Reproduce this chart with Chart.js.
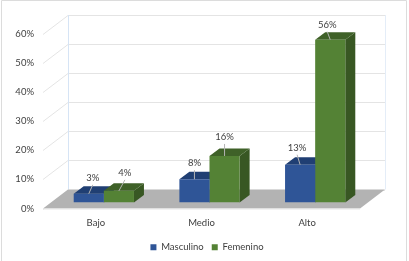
<!DOCTYPE html>
<html>
<head>
<meta charset="utf-8">
<style>
  html, body { margin: 0; padding: 0; background: #fff; }
  canvas { display: block; }
</style>
<script src="https://cdn.jsdelivr.net/npm/chart.js@4"></script>
</head>
<body>
<canvas id="myChart" width="409" height="261"></canvas>
<script>
const categories = ['Bajo', 'Medio', 'Alto'];
const masculino = [3, 8, 13];
const femenino = [4, 16, 56];
const yTicks = [0, 10, 20, 30, 40, 50, 60];

// pseudo 3D: offsets from the plane of the bars
const WALL = { dx: 17, dy: -13 };
const FRONT = { dx: -8, dy: 6 };
const BAR_DEPTH = { dx: 10, dy: -7.5 };
const TEXT = '#404040';
const FONT_FAMILY = 'Lato';
const FONT_SIZE = 9.5;

// label nudges per dataset, per bar: [dx, dy] from the top of the front face
const labelNudge = [
  [[4, -16], [0, -16], [-3, -17]],
  [[6, -18], [0, -19], [-3, -15]]
];
const sideColors = ['#1f3f73', '#385723'];
const topColors = ['#203f73', '#3f6128'];

function poly(ctx, pts, fill) {
  ctx.beginPath();
  pts.forEach((p, i) => i ? ctx.lineTo(p[0], p[1]) : ctx.moveTo(p[0], p[1]));
  ctx.closePath();
  ctx.fillStyle = fill;
  ctx.fill();
}

function line(ctx, x1, y1, x2, y2, color) {
  ctx.beginPath();
  ctx.moveTo(x1, y1);
  ctx.lineTo(x2, y2);
  ctx.strokeStyle = color;
  ctx.lineWidth = 1;
  ctx.stroke();
}

const frame = {
  id: 'frame',
  beforeDraw(chart) {
    const ctx = chart.ctx;
    ctx.save();
    ctx.strokeStyle = '#dcdcdc';
    ctx.lineWidth = 1;
    ctx.beginPath();
    ctx.moveTo(1.5, 261);
    ctx.lineTo(1.5, 0.5);
    ctx.lineTo(406.5, 0.5);
    ctx.lineTo(406.5, 261);
    ctx.stroke();
    ctx.restore();
  },
  // the right padding pushes the legend left, put it back under the whole frame
  afterLayout(chart) {
    chart.legend.left += 23;
    chart.legend.right += 23;
    chart.legend.top += 2;
    chart.legend.bottom += 2;
  }
};

const walls = {
  id: 'walls',
  beforeDatasetsDraw(chart) {
    const ctx = chart.ctx;
    const area = chart.chartArea;
    const y = chart.scales.y;
    const backL = area.left + WALL.dx, backR = area.right + WALL.dx;
    const frontL = area.left + FRONT.dx, frontR = area.right + FRONT.dx;
    ctx.save();
    yTicks.forEach((t) => {
      const py = Math.round(y.getPixelForValue(t));
      line(ctx, backL, py + WALL.dy + 0.5, backR, py + WALL.dy + 0.5, '#e4e4e4');
      line(ctx, frontL, py + FRONT.dy + 0.5, backL, py + WALL.dy + 0.5, '#e4e4e4');
    });
    const top = y.getPixelForValue(60) + WALL.dy;
    const bottom = y.getPixelForValue(0) + WALL.dy;
    line(ctx, backL + 0.5, top, backL + 0.5, bottom, '#d6e4f5');
    line(ctx, backR + 0.5, top, backR + 0.5, bottom, '#e4edf8');
    poly(ctx, [
      [frontL, area.bottom + FRONT.dy],
      [backL, bottom],
      [backR, bottom],
      [frontR, area.bottom + FRONT.dy]
    ], '#b3b3b3');
    line(ctx, frontL, area.bottom + FRONT.dy + 0.5, frontR, area.bottom + FRONT.dy + 0.5, '#e6e6e6');
    // the sides and tops sit behind the front faces
    chart.data.datasets.forEach((ds, d) => {
      chart.getDatasetMeta(d).data.forEach((bar) => {
        const l = bar.x - bar.width / 2, r = bar.x + bar.width / 2;
        const dx = BAR_DEPTH.dx, dy = BAR_DEPTH.dy;
        poly(ctx, [[r, bar.y], [r + dx, bar.y + dy], [r + dx, bar.base + dy], [r, bar.base]], sideColors[d]);
        poly(ctx, [[l, bar.y], [l + dx, bar.y + dy], [r + dx, bar.y + dy], [r, bar.y]], topColors[d]);
      });
    });
    ctx.restore();
  }
};

const barLabels = {
  id: 'barLabels',
  afterDatasetsDraw(chart) {
    const ctx = chart.ctx;
    ctx.save();
    ctx.font = FONT_SIZE + 'px ' + FONT_FAMILY;
    ctx.textAlign = 'center';
    ctx.textBaseline = 'middle';
    chart.data.datasets.forEach((ds, d) => {
      chart.getDatasetMeta(d).data.forEach((bar, i) => {
        const n = labelNudge[d][i];
        const lx = bar.x + n[0], ly = bar.y + n[1];
        line(ctx, bar.x, bar.y, lx, ly + 7, '#b4b4b4');
        ctx.fillStyle = TEXT;
        ctx.fillText(ds.data[i] + '%', lx, ly);
      });
    });
    ctx.restore();
  }
};

new Chart(document.getElementById('myChart'), {
  type: 'bar',
  data: {
    labels: categories,
    datasets: [
      { label: 'Masculino', data: masculino, backgroundColor: '#2f5597' },
      { label: 'Femenino', data: femenino, backgroundColor: '#548235' }
    ]
  },
  options: {
    responsive: false,
    animation: false,
    categoryPercentage: 0.57,
    barPercentage: 1,
    layout: { padding: { top: 28, right: 41, bottom: 1, left: 0 } },
    plugins: {
      title: { display: false },
      tooltip: { enabled: false },
      legend: {
        position: 'bottom',
        labels: {
          boxWidth: 6,
          boxHeight: 6,
          padding: 8,
          color: TEXT,
          font: { family: FONT_FAMILY, size: FONT_SIZE }
        }
      }
    },
    scales: {
      x: {
        grid: { display: false },
        border: { display: false },
        afterFit(scale) { scale.height = 30; },
        ticks: {
          color: TEXT,
          labelOffset: -8,
          padding: 7,
          maxRotation: 0,
          font: { family: FONT_FAMILY, size: FONT_SIZE }
        }
      },
      y: {
        min: 0,
        max: 60,
        grid: { display: false },
        border: { display: false },
        afterFit(scale) { scale.width = 51; },
        ticks: {
          stepSize: 10,
          color: TEXT,
          labelOffset: 6,
          padding: 9,
          callback: (v) => v + '%',
          font: { family: FONT_FAMILY, size: FONT_SIZE }
        }
      }
    }
  },
  plugins: [frame, walls, barLabels]
});
</script>
</body>
</html>
